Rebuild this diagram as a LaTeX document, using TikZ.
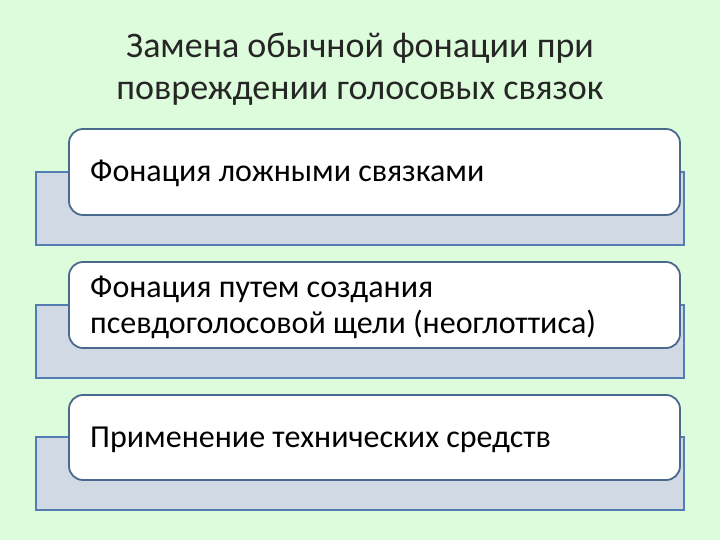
\documentclass[tikz,border=0pt]{standalone}
\usepackage{fontspec}
\setmainfont{Carlito}
\definecolor{bgc}{RGB}{220,252,220}
\definecolor{backfill}{RGB}{209,217,228}
\definecolor{backline}{RGB}{84,125,180}
\definecolor{frontline}{RGB}{75,105,140}
\tikzset{
  backbox/.style={fill=backfill,draw=backline,line width=1.5pt},
  frontbox/.style={fill=white,draw=frontline,line width=1.8pt,rounded corners=14pt},
  boxtext/.style={anchor=base west,font=\fontsize{32}{36}\selectfont,inner sep=0pt,align=left},
  titletext/.style={anchor=base,font=\fontsize{36}{42}\selectfont,inner sep=0pt,text=black!85}
}
\begin{document}
\begin{tikzpicture}[x=1pt,y=-1pt]
\fill[bgc] (0,0) rectangle (720,540);
\useasboundingbox (0,0) rectangle (720,540);
\node[titletext] (t1) at (360,58) {Замена обычной фонации при};
\node[titletext] (t2) at (360,100) {повреждении голосовых связок};
% box 1
\draw[backbox] (36,172) rectangle (684,245);
\draw[frontbox] (69,129) rectangle (680,215);
\node[boxtext] (b1) at (90,182) {Фонация ложными связками};
% box 2
\draw[backbox] (36,305) rectangle (684,378);
\draw[frontbox] (69,262) rectangle (680,348);
\node[boxtext] (b2a) at (90,297) {Фонация путем создания};
\node[boxtext] (b2b) at (90,333) {псевдоголосовой щели (неоглоттиса)};
% box 3
\draw[backbox] (36,437) rectangle (684,510);
\draw[frontbox] (69,395) rectangle (680,480);
\node[boxtext] (b3) at (90,447) {Применение технических средств};
\end{tikzpicture}
\end{document}
